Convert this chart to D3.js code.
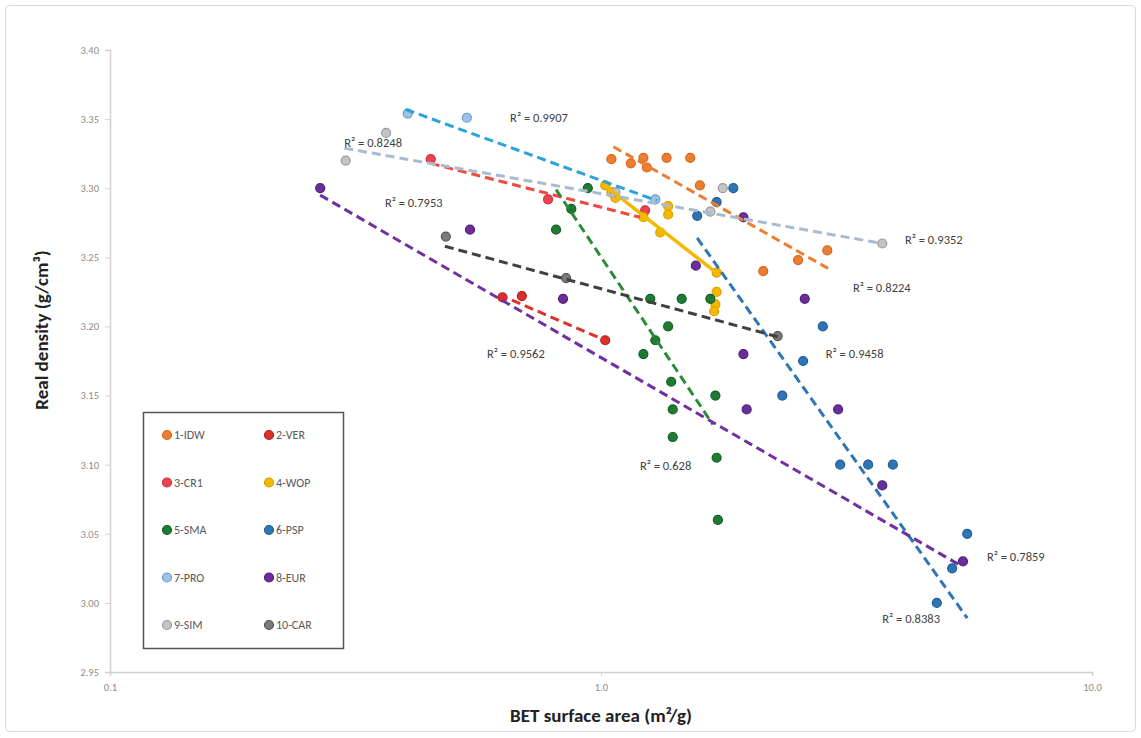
<!DOCTYPE html>
<html>
<head>
    <meta charset="utf-8" />
    <title>Real density vs BET surface area</title>
    <style>
        html, body {
            margin: 0;
            padding: 0;
            background-color: #fff;
        }
        .canvas {
            width: 1141px;
            height: 738px;
        }
        text {
            font-family: Carlito, 'Liberation Sans', Arial, sans-serif;
        }
    </style>
</head>
<body>
    <div class="canvas"></div>
    <script src="https://d3js.org/d3.v7.min.js"></script>
    <script>
        // series names + colours (legend order)
        var names = ["1-IDW", "2-VER", "3-CR1", "4-WOP", "5-SMA", "6-PSP", "7-PRO", "8-EUR", "9-SIM", "10-CAR"];
        var fills = ["#ED7D31", "#D9302B", "#EE4452", "#F5B800", "#1E7B34", "#2E75B6", "#9DC3E6", "#6A2E9A", "#C4C4C4", "#7A7A7A"];
        var strokes = ["#D8661C", "#B02020", "#D02C3A", "#D99E00", "#145E24", "#235C94", "#6E9CC4", "#4E1F78", "#9A9A9A", "#555555"];
        var lineColors = ["#ED7D31", "#E0302B", "#F04A40", "#F5B800", "#2B8B3A", "#2E75B6", "#2AA3DD", "#7030A0", "#A9BBD0", "#404040"];

        // [BET m2/g, density g/cm3]
        var idw = [[1.05, 3.321], [1.15, 3.318], [1.22, 3.322], [1.24, 3.315], [1.36, 3.322], [1.52, 3.322], [1.59, 3.302], [2.14, 3.240], [2.52, 3.248], [2.89, 3.255]];
        var ver = [[0.63, 3.221], [0.69, 3.222], [1.02, 3.190]];
        var cr1 = [[0.45, 3.321], [0.78, 3.292], [1.23, 3.284]];
        var wop = [[1.02, 3.302], [1.05, 3.297], [1.07, 3.293], [1.22, 3.279], [1.32, 3.268], [1.37, 3.287], [1.37, 3.281], [1.72, 3.239], [1.72, 3.225], [1.71, 3.216], [1.70, 3.211]];
        var sma = [[0.94, 3.300], [0.87, 3.285], [0.81, 3.270], [1.26, 3.220], [1.46, 3.220], [1.67, 3.220], [1.37, 3.200], [1.29, 3.190], [1.22, 3.180], [1.39, 3.160], [1.71, 3.150], [1.40, 3.140], [1.40, 3.120], [1.72, 3.105], [1.73, 3.060]];
        var psp = [[1.57, 3.280], [1.72, 3.290], [1.86, 3.300], [2.34, 3.150], [2.58, 3.175], [2.83, 3.200], [3.07, 3.100], [3.50, 3.100], [3.93, 3.100], [4.83, 3.000], [5.19, 3.025], [5.57, 3.050]];
        var pro = [[0.404, 3.354], [0.533, 3.351], [1.29, 3.292]];
        var eur = [[0.268, 3.300], [0.541, 3.270], [0.837, 3.220], [1.56, 3.244], [1.95, 3.279], [1.95, 3.180], [1.98, 3.140], [2.60, 3.220], [3.04, 3.140], [3.74, 3.085], [5.46, 3.030]];
        var sim = [[0.302, 3.320], [0.365, 3.340], [1.07, 3.297], [1.67, 3.283], [1.77, 3.300], [3.74, 3.260]];
        var car = [[0.483, 3.265], [0.849, 3.235], [2.29, 3.193]];
        var allSeries = [idw, ver, cr1, wop, sma, psp, pro, eur, sim, car];

        // trendline ends [x1, y1, x2, y2]
        var trends = [
            [1.06, 3.330, 2.90, 3.242],
            [0.62, 3.223, 1.02, 3.190],
            [0.45, 3.318, 1.20, 3.279],
            [1.01, 3.303, 1.73, 3.238],
            [0.81, 3.299, 1.69, 3.129],
            [1.57, 3.264, 5.57, 2.989],
            [0.40, 3.357, 1.30, 3.291],
            [0.268, 3.295, 5.40, 3.027],
            [0.30, 3.329, 3.74, 3.260],
            [0.481, 3.258, 2.29, 3.1925]
        ];
        var solidTrend = [false, false, false, true, false, false, false, false, false, false];

        var r2Text = ["R\u00b2 = 0.9907", "R\u00b2 = 0.8248", "R\u00b2 = 0.7953", "R\u00b2 = 0.9352", "R\u00b2 = 0.8224", "R\u00b2 = 0.9562", "R\u00b2 = 0.9458", "R\u00b2 = 0.628", "R\u00b2 = 0.7859", "R\u00b2 = 0.8383"];
        var r2X = [0.653, 0.300, 0.363, 4.16, 3.26, 0.586, 2.87, 1.20, 6.11, 3.74];
        var r2Y = [3.3508, 3.3328, 3.2894, 3.2626, 3.2279, 3.1802, 3.1802, 3.0992, 3.0334, 2.9886];

        var yTicks = [2.95, 3.00, 3.05, 3.10, 3.15, 3.20, 3.25, 3.30, 3.35, 3.40];
        var xTicks = [0.1, 1.0, 10.0];

        var width = 1141;
        var height = 738;

        var svg = d3.select(".canvas")
                    .append("svg")
                    .attr("width", width)
                    .attr("height", height);

        // outer chart border
        svg.append("rect")
            .attr("x", 5.5).attr("y", 5.5)
            .attr("width", 1130).attr("height", 726)
            .attr("rx", 4)
            .attr("fill", "#fff")
            .attr("stroke", "#D9D9D9");

        var x = d3.scaleLog().domain([0.1, 10]).range([110, 1092]);
        var y = d3.scaleLinear().domain([2.95, 3.40]).range([672, 50]);

        var yAxis = svg.append("g")
            .attr("transform", "translate(110,0)")
            .call(d3.axisLeft(y).tickValues(yTicks).tickFormat(d3.format(".2f")).tickSize(5).tickPadding(6));
        var xAxis = svg.append("g")
            .attr("transform", "translate(0,672)")
            .call(d3.axisBottom(x).tickValues(xTicks).tickFormat(d3.format(".1f")).tickSize(4).tickPadding(8));

        svg.selectAll(".domain").attr("stroke", "#D0D0D0").attr("stroke-width", 1.5);
        svg.selectAll(".tick line").attr("stroke", "#D0D0D0");
        svg.selectAll(".tick text")
            .attr("fill", "#8C8C8C")
            .style("font-size", "10.5px")
            .style("font-family", "Carlito, 'Liberation Sans', Arial, sans-serif");

        // axis titles
        svg.append("text")
            .attr("transform", "translate(48,330) rotate(-90)")
            .attr("text-anchor", "middle")
            .attr("font-size", 19)
            .attr("font-weight", "bold")
            .attr("fill", "#222")
            .text("Real density (g/cm\u00b3)");
        svg.append("text")
            .attr("x", 601).attr("y", 722)
            .attr("text-anchor", "middle")
            .attr("font-size", 19)
            .attr("font-weight", "bold")
            .attr("fill", "#222")
            .text("BET surface area (m\u00b2/g)");

        // points
        allSeries.forEach(function(s, i) {
            svg.append("g")
                .selectAll("circle")
                .data(s)
                .enter()
                .append("circle")
                .attr("cx", function(d) { return x(d[0]); })
                .attr("cy", function(d) { return y(d[1]); })
                .attr("r", 4.5)
                .attr("fill", fills[i])
                .attr("stroke", strokes[i])
                .attr("stroke-width", 1.2);
        });

        // trendlines on top
        trends.forEach(function(t, i) {
            svg.append("line")
                .attr("x1", x(t[0])).attr("y1", y(t[1]))
                .attr("x2", x(t[2])).attr("y2", y(t[3]))
                .attr("stroke", lineColors[i])
                .attr("stroke-width", solidTrend[i] ? 3.5 : 3)
                .attr("stroke-dasharray", solidTrend[i] ? null : "9,5");
        });

        // R2 labels
        svg.append("g")
            .selectAll("text")
            .data(r2Text)
            .enter()
            .append("text")
            .attr("x", function(d, i) { return x(r2X[i]); })
            .attr("y", function(d, i) { return y(r2Y[i]); })
            .attr("dy", "0.35em")
            .attr("font-size", 12.5)
            .attr("fill", "#404040")
            .text(function(d) { return d; });

        // legend
        var legend = svg.append("g");
        legend.append("rect")
            .attr("x", 143.5).attr("y", 412.5)
            .attr("width", 200).attr("height", 236)
            .attr("fill", "#fff")
            .attr("stroke", "#555")
            .attr("stroke-width", 1.5);

        var item = legend.selectAll(".item")
            .data(names)
            .enter()
            .append("g")
            .attr("transform", function(d, i) {
                return "translate(" + (i % 2 === 0 ? 167 : 269) + "," + (435 + Math.floor(i / 2) * 47.5) + ")";
            });
        item.append("circle")
            .attr("r", 4.5)
            .attr("fill", function(d, i) { return fills[i]; })
            .attr("stroke", function(d, i) { return strokes[i]; })
            .attr("stroke-width", 1.2);
        item.append("text")
            .attr("x", 7)
            .attr("dy", "0.35em")
            .attr("font-size", 12)
            .attr("fill", "#595959")
            .text(function(d) { return d; });
    </script>
</body>
</html>
